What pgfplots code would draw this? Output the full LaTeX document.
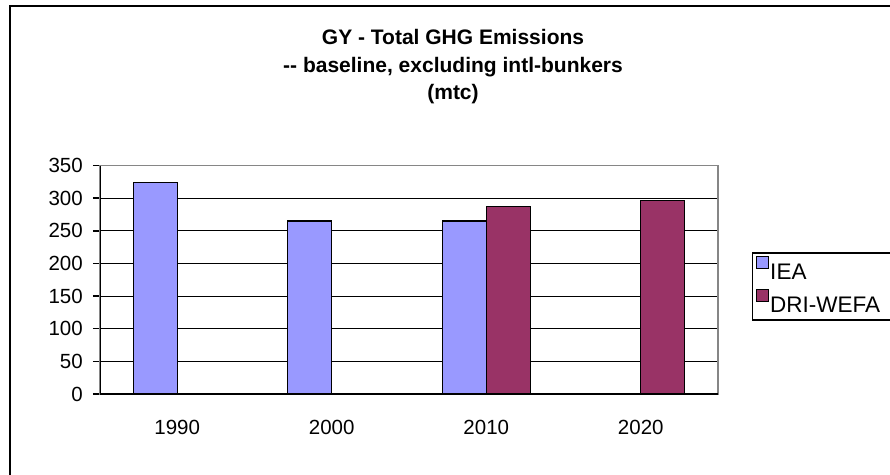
\documentclass[border=0pt]{standalone}
\usepackage{fontspec}
\setmainfont{Liberation Sans}
\usepackage{pgfplots}
\pgfplotsset{compat=1.18}
\definecolor{iea}{HTML}{9999FF}
\definecolor{dri}{HTML}{993366}
\begin{document}
\fontsize{20.5}{24}\selectfont
\begin{tikzpicture}
\useasboundingbox (0pt,0pt) rectangle (890pt,474pt);
\draw[line width=2pt] (9.6pt,-20pt) rectangle (920pt,468.3pt);
\node[font=\fontsize{21}{25}\selectfont\bfseries, anchor=base] at (453pt,429pt) {GY - Total GHG Emissions};
\node[font=\fontsize{21}{25}\selectfont\bfseries, anchor=base] at (453pt,401.5pt) {{-}{-} baseline, excluding intl-bunkers};
\node[font=\fontsize{21}{25}\selectfont\bfseries, anchor=base] at (453pt,374pt) {(mtc)};
\begin{axis}[
  at={(100pt,80pt)}, anchor=south west,
  scale only axis, width=618pt, height=228.5pt,
  xmin=-0.5, xmax=3.5, ymin=0, ymax=350,
  ybar, bar width=44pt,
  xtick={0,1,2,3}, xticklabels={1990,2000,2010,2020},
  x tick style={draw=none},
  extra x ticks={-0.5,0.5,1.5,2.5,3.5}, extra x tick labels={},
  extra x tick style={tick style={black, line width=1.5pt}, grid=none},
  ytick={0,50,...,350},
  y tick style={black, line width=1.5pt},
  tick align=outside, major tick length=7pt,
  xtick pos=lower, ytick pos=left,
  ymajorgrids, major grid style={black, line width=1pt},
  axis line style={draw=gray!95, line width=1.5pt},
  /pgf/number format/assume math mode=true,
  tick label style={font=\fontsize{20.5}{24}\selectfont},
  yticklabel style={inner sep=0pt, xshift=-10pt},
  xticklabel style={inner sep=0pt, yshift=-19pt},
  legend style={at={(1.055,0.621)}, anchor=north west, draw=black, line width=1.5pt,
    font=\fontsize{22.5}{26}\selectfont, row sep=5pt, inner ysep=3pt,
    nodes={inner sep=1pt}},
  legend cell align=left,
]
\addplot[fill=iea, draw=black, line width=1.2pt, bar shift=-22pt,
  legend image code/.code={\draw[fill=iea,draw=black,line width=1.5pt] (0pt,5pt) rectangle (12pt,17pt);}]
  coordinates {(0,324) (1,265) (2,265)};
\addlegendentry{IEA}
\addplot[fill=dri, draw=black, line width=1.2pt, bar shift=22pt,
  legend image code/.code={\draw[fill=dri,draw=black,line width=1.5pt] (0pt,5pt) rectangle (12pt,17pt);}]
  coordinates {(2,287) (3,296)};
\addlegendentry{DRI-WEFA\rule{16pt}{0pt}}
\draw[black, line width=2.5pt] (rel axis cs:0,1) -- (rel axis cs:0,0) -- (rel axis cs:1,0);
\end{axis}
\end{tikzpicture}
\end{document}
